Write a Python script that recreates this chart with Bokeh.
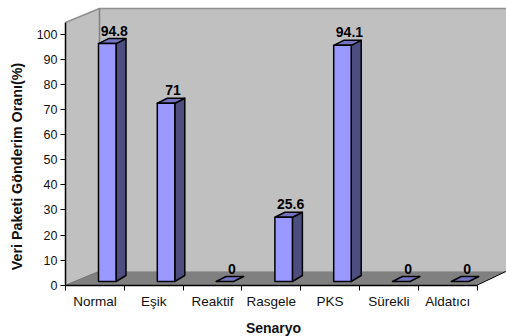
from bokeh.embed import file_html
from bokeh.resources import INLINE
from bokeh.core.properties import value
from bokeh.models import ColumnDataSource, FixedTicker, Range1d
from bokeh.plotting import figure

# Chart data
categories = ["Normal", "Eşik", "Reaktif", "Rasgele", "PKS", "Sürekli", "Aldatıcı"]
delivery = [94.8, 71, 0, 25.6, 94.1, 0, 0]
value_ticks = [0, 10, 20, 30, 40, 50, 60, 70, 80, 90, 100]

# Pixel layout: the frame fills the page, the axes sit at fixed data locations
W, H = 506, 336
LEFT, ZERO_PX, TOP_PX = 65, 284.7, 8
CAT_PX = 58.8
VAL_PX = 2.51
x_per_px = 1 / CAT_PX
y_per_px = 1 / VAL_PX


def dx(px):
    return px * x_per_px


def dy(px):
    return px * y_per_px


# Oblique projection used for the pseudo 3D look
WALL_DX, WALL_DY = dx(34), dy(14)
BAR_DX, BAR_DY = dx(10), dy(5)
BAR_X0, BAR_W = dx(33), dx(17.5)
BAR_BASE = dy(3.7)
AXIS_TOP = dy(ZERO_PX - 22)
WALL_TOP = dy(ZERO_PX - TOP_PX)

n = len(categories)
x_end = dx(W - LEFT)

p = figure(
    width=W, height=H, output_backend="svg", toolbar_location=None,
    x_range=Range1d(dx(-LEFT), x_end),
    y_range=Range1d(dy(ZERO_PX - H), dy(ZERO_PX)),
    min_border=0,
)
p.outline_line_color = None
p.grid.visible = False
p.background_fill_color = "white"

# Walls and floor
WALL_GREY, FLOOR_GREY = "#C0C0C0", "#808080"
p.patch([WALL_DX, x_end, x_end, WALL_DX], [WALL_DY, WALL_DY, WALL_TOP, WALL_TOP],
        fill_color=WALL_GREY, line_color=None)
p.patch([0, WALL_DX, WALL_DX, 0], [0, WALL_DY, WALL_TOP, AXIS_TOP],
        fill_color=WALL_GREY, line_color=None)
p.patch([0, WALL_DX, x_end, n], [0, WALL_DY, WALL_DY, 0],
        fill_color=FLOOR_GREY, line_color=None)
p.line([0, WALL_DX, x_end], [AXIS_TOP, WALL_TOP, WALL_TOP], line_color="#909090", line_width=1.5)
p.line([WALL_DX, WALL_DX], [WALL_DY, WALL_TOP], line_color="#808080", line_width=1.5)
p.line([0, WALL_DX], [0, WALL_DY], line_color="#707070", line_width=1)
p.line([n, x_end], [0, WALL_DY], line_color="black", line_width=1)

# Bars: side face, top face, front face
for i, v in enumerate(delivery):
    x0 = i + BAR_X0
    x1 = x0 + BAR_W
    base = BAR_BASE
    top = BAR_BASE + v
    style = dict(line_color="black", line_width=1.5, line_join="round")
    if v > 0:
        p.patch([x1, x1 + BAR_DX, x1 + BAR_DX, x1],
                [base, base + BAR_DY * 1.2, top + BAR_DY, top],
                fill_color="#4D4D80", **style)
    p.patch([x0, x1, x1 + BAR_DX, x0 + BAR_DX],
            [top, top, top + BAR_DY, top + BAR_DY],
            fill_color="#7373BF", **style)
    if v > 0:
        p.patch([x0, x1, x1, x0], [base, base, top, top],
                fill_color="#9999FF", **style)

# Value labels above each bar
label_src = ColumnDataSource(dict(
    x=[i + BAR_X0 + BAR_W / 2 + BAR_DX * 0.7 for i in range(n)],
    y=[BAR_BASE + v + BAR_DY + dy(3) for v in delivery],
    t=[f"{v:g}" for v in delivery],
))
p.text("x", "y", text="t", source=label_src,
       text_font=value("Liberation Sans"), text_font_style="bold",
       text_font_size="14px", text_color="black",
       text_align="center", text_baseline="bottom")

# Axes
yax = p.yaxis[0]
yax.fixed_location = 0
yax.ticker = FixedTicker(ticks=value_ticks)
yax.bounds = (0, AXIS_TOP)
yax.axis_line_color = "black"
yax.axis_line_width = 1.5
yax.major_tick_line_color = "black"
yax.major_tick_out = 5
yax.major_tick_in = 0
yax.minor_tick_out = 0
yax.minor_tick_in = 0
yax.major_label_standoff = 3
yax.major_label_text_font = "Liberation Sans"
yax.major_label_text_font_size = "12.5px"
yax.major_label_text_color = "#111111"

centres = [i + 0.5 for i in range(n)]
xax = p.xaxis[0]
xax.fixed_location = 0
xax.ticker = FixedTicker(ticks=centres, minor_ticks=list(range(n + 1)))
xax.major_label_overrides = {c: name for c, name in zip(centres, categories)}
xax.bounds = (0, n)
xax.axis_line_color = "black"
xax.axis_line_width = 1.5
xax.major_tick_out = 0
xax.major_tick_in = 0
xax.minor_tick_line_color = "black"
xax.minor_tick_out = 5
xax.minor_tick_in = 0
xax.major_label_standoff = 4
xax.major_label_text_font = "Liberation Sans"
xax.major_label_text_font_size = "13.5px"
xax.major_label_text_color = "#111111"

# Axis titles
p.text([dx(16 - LEFT)], [dy(ZERO_PX - 166)], text=["Veri Paketi Gönderim Oranı(%)"],
       angle=90, angle_units="deg", text_align="center", text_baseline="middle",
       text_font=value("Liberation Sans"), text_font_style="bold", text_font_size="14.3px",
       text_color="#111111")
p.text([dx(273 - LEFT)], [dy(ZERO_PX - 327)], text=["Senaryo"],
       text_align="center", text_baseline="middle",
       text_font=value("Liberation Sans"), text_font_style="bold", text_font_size="14px",
       text_color="#111111")

open("out.html", "w").write(file_html(p, INLINE))
